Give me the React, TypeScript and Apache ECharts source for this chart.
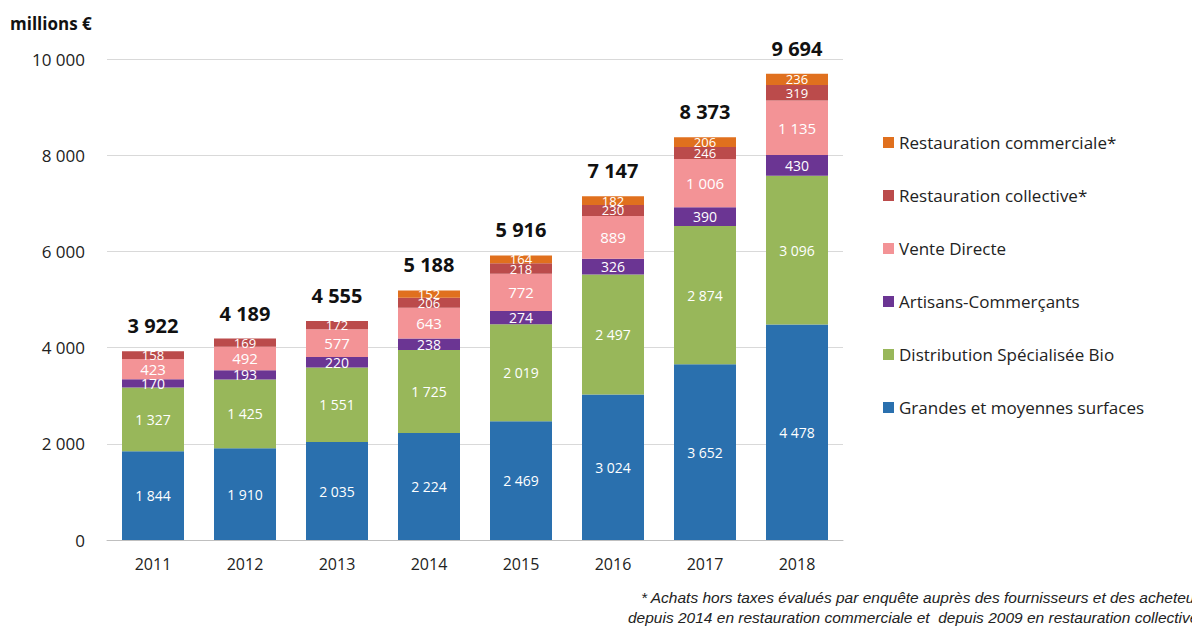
import React, { useEffect, useRef } from "react";
import * as echarts from "echarts";

const years = ["2011", "2012", "2013", "2014", "2015", "2016", "2017", "2018"];
const gms = [1844, 1910, 2035, 2224, 2469, 3024, 3652, 4478];
const bio = [1327, 1425, 1551, 1725, 2019, 2497, 2874, 3096];
const artisans = [170, 193, 220, 238, 274, 326, 390, 430];
const venteDirecte = [423, 492, 577, 643, 772, 889, 1006, 1135];
const restoCollective = [158, 169, 172, 206, 218, 230, 246, 319];
const restoCommerciale = [null, null, null, 152, 164, 182, 206, 236];
const totals = [3922, 4189, 4555, 5188, 5916, 7147, 8373, 9694];
const yTicks = [0, 2000, 4000, 6000, 8000, 10000];

const fmt = (v: number) => String(Math.round(v)).replace(/\B(?=(\d{3})+(?!\d))/g, " ");

const FONT = "'Open Sans', 'Liberation Sans', sans-serif";

export default function App() {
  const ref = useRef<HTMLDivElement>(null);
  useEffect(() => {
    if (!ref.current) return;
    const chart = echarts.init(ref.current, null, { renderer: "svg" });
    const mk = (name: string, data: (number | null)[], color: string, fs: number) => ({
      name,
      type: "bar",
      stack: "total",
      data,
      barWidth: 62,
      itemStyle: { color },
      label: {
        show: true,
        position: "inside",
        color: "#fff",
        fontSize: fs,
        fontFamily: FONT,
        formatter: (p: any) => (p.value == null ? "" : fmt(p.value)),
      },
    });
    chart.setOption({
      animation: false,
      textStyle: { fontFamily: FONT },
      grid: { left: 107, right: 349, top: 59, bottom: 88, containLabel: false },
      legend: {
        orient: "vertical",
        left: 878,
        top: 129,
        itemWidth: 11,
        itemHeight: 11,
        itemGap: 36,
        icon: "rect",
        textStyle: { fontSize: 17, color: "#222", fontFamily: FONT },
        data: [
          "Restauration commerciale*",
          "Restauration collective*",
          "Vente Directe",
          "Artisans-Commerçants",
          "Distribution Spécialisée Bio",
          "Grandes et moyennes surfaces",
        ],
      },
      xAxis: {
        type: "category",
        data: years,
        axisLine: { lineStyle: { color: "#bfbfbf" } },
        axisTick: { show: false },
        axisLabel: { fontSize: 16, color: "#222", margin: 16, fontFamily: FONT },
      },
      yAxis: {
        type: "value",
        min: yTicks[0],
        max: yTicks[yTicks.length - 1],
        interval: 2000,
        axisLine: { show: false },
        axisTick: { show: false },
        splitLine: { lineStyle: { color: "#d9d9d9" } },
        axisLabel: { fontSize: 17, color: "#222", margin: 22, formatter: (v: number) => fmt(v), fontFamily: FONT },
      },
      series: [
        mk("Grandes et moyennes surfaces", gms, "#2a70ae", 14),
        mk("Distribution Spécialisée Bio", bio, "#98b75a", 14),
        mk("Artisans-Commerçants", artisans, "#6b3593", 14),
        mk("Vente Directe", venteDirecte, "#f39396", 15),
        mk("Restauration collective*", restoCollective, "#bb4b4b", 13),
        mk("Restauration commerciale*", restoCommerciale, "#e0701e", 13),
        {
          name: "Total",
          type: "line",
          data: totals,
          symbol: "circle",
          symbolSize: 1,
          showSymbol: true,
          lineStyle: { width: 0, opacity: 0 },
          itemStyle: { color: "rgba(0,0,0,0)" },
          z: 10,
          label: {
            show: true,
            position: "top",
            distance: 15,
            fontSize: 20,
            fontWeight: "bold",
            color: "#111",
            fontFamily: FONT,
            formatter: (p: any) => fmt(p.value),
          },
        },
      ],
      graphic: [
        {
          type: "text",
          left: 10,
          top: 15,
          style: { text: "millions €", fontSize: 17, fontWeight: "bold", fill: "#111", fontFamily: FONT },
        },
        {
          type: "text",
          x: 641,
          y: 589,
          style: {
            text: "* Achats hors taxes évalués par enquête auprès des fournisseurs et des acheteurs",
            fontSize: 15.5,
            fontStyle: "italic",
            fill: "#222",
            fontFamily: "'Liberation Sans', sans-serif",
          },
        },
        {
          type: "text",
          x: 628,
          y: 609,
          style: {
            text: "depuis 2014 en restauration commerciale et  depuis 2009 en restauration collective",
            fontSize: 15.5,
            fontStyle: "italic",
            fill: "#222",
            fontFamily: "'Liberation Sans', sans-serif",
          },
        },
      ],
    });
    return () => chart.dispose();
  }, []);
  return (
    <div
      ref={ref}
      style={{ position: "fixed", left: 0, top: 0, width: 1192, height: 628, background: "#fff" }}
    />
  );
}
